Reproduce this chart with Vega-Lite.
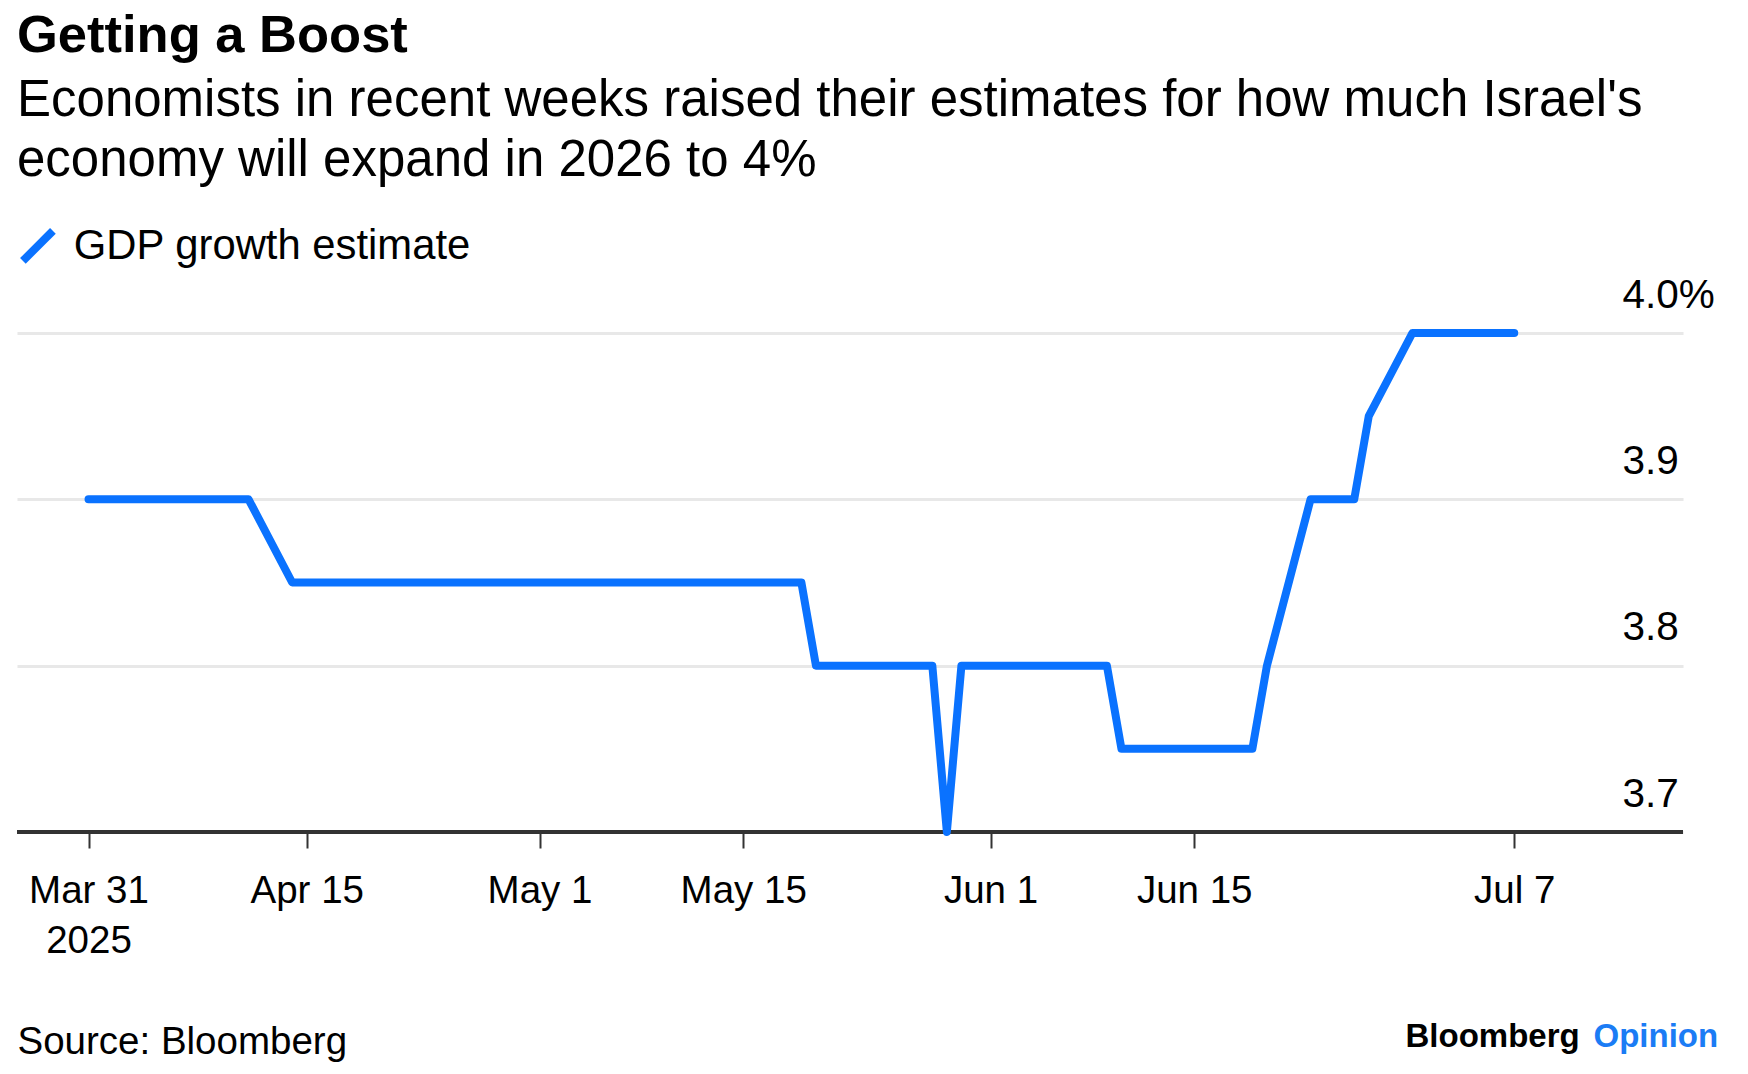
{
  "$schema": "https://vega.github.io/schema/vega-lite/v6.json",
  "width": 1666,
  "height": 499,
  "autosize": {"type": "none"},
  "padding": {"left": 17, "top": 333, "right": 65, "bottom": 242},
  "background": "white",
  "config": {
    "font": "Liberation Sans",
    "view": {"stroke": null}
  },
  "title": {
    "text": "Getting a Boost",
    "subtitle": [
      "Economists in recent weeks raised their estimates for how much Israel's",
      "economy will expand in 2026 to 4%"
    ],
    "anchor": "start",
    "frame": "group",
    "font": "Liberation Sans",
    "fontSize": 52.5,
    "fontWeight": "bold",
    "color": "#000000",
    "subtitleFont": "Liberation Sans",
    "subtitleFontSize": 51,
    "subtitleColor": "#000000",
    "subtitleLineHeight": 60,
    "subtitlePadding": 12.5,
    "offset": 38.5
  },
  "data": {
    "values": [
      {"date": "2025-03-31", "gdp": 3.9},
      {"date": "2025-04-01", "gdp": 3.9},
      {"date": "2025-04-02", "gdp": 3.9},
      {"date": "2025-04-03", "gdp": 3.9},
      {"date": "2025-04-04", "gdp": 3.9},
      {"date": "2025-04-07", "gdp": 3.9},
      {"date": "2025-04-08", "gdp": 3.9},
      {"date": "2025-04-09", "gdp": 3.9},
      {"date": "2025-04-10", "gdp": 3.9},
      {"date": "2025-04-11", "gdp": 3.9},
      {"date": "2025-04-14", "gdp": 3.85},
      {"date": "2025-04-15", "gdp": 3.85},
      {"date": "2025-04-16", "gdp": 3.85},
      {"date": "2025-04-17", "gdp": 3.85},
      {"date": "2025-04-18", "gdp": 3.85},
      {"date": "2025-04-21", "gdp": 3.85},
      {"date": "2025-04-22", "gdp": 3.85},
      {"date": "2025-04-23", "gdp": 3.85},
      {"date": "2025-04-24", "gdp": 3.85},
      {"date": "2025-04-25", "gdp": 3.85},
      {"date": "2025-04-28", "gdp": 3.85},
      {"date": "2025-04-29", "gdp": 3.85},
      {"date": "2025-04-30", "gdp": 3.85},
      {"date": "2025-05-01", "gdp": 3.85},
      {"date": "2025-05-02", "gdp": 3.85},
      {"date": "2025-05-05", "gdp": 3.85},
      {"date": "2025-05-06", "gdp": 3.85},
      {"date": "2025-05-07", "gdp": 3.85},
      {"date": "2025-05-08", "gdp": 3.85},
      {"date": "2025-05-09", "gdp": 3.85},
      {"date": "2025-05-12", "gdp": 3.85},
      {"date": "2025-05-13", "gdp": 3.85},
      {"date": "2025-05-14", "gdp": 3.85},
      {"date": "2025-05-15", "gdp": 3.85},
      {"date": "2025-05-16", "gdp": 3.85},
      {"date": "2025-05-19", "gdp": 3.85},
      {"date": "2025-05-20", "gdp": 3.8},
      {"date": "2025-05-21", "gdp": 3.8},
      {"date": "2025-05-22", "gdp": 3.8},
      {"date": "2025-05-23", "gdp": 3.8},
      {"date": "2025-05-26", "gdp": 3.8},
      {"date": "2025-05-27", "gdp": 3.8},
      {"date": "2025-05-28", "gdp": 3.8},
      {"date": "2025-05-29", "gdp": 3.7},
      {"date": "2025-05-30", "gdp": 3.8},
      {"date": "2025-06-02", "gdp": 3.8},
      {"date": "2025-06-03", "gdp": 3.8},
      {"date": "2025-06-04", "gdp": 3.8},
      {"date": "2025-06-05", "gdp": 3.8},
      {"date": "2025-06-06", "gdp": 3.8},
      {"date": "2025-06-09", "gdp": 3.8},
      {"date": "2025-06-10", "gdp": 3.75},
      {"date": "2025-06-11", "gdp": 3.75},
      {"date": "2025-06-12", "gdp": 3.75},
      {"date": "2025-06-13", "gdp": 3.75},
      {"date": "2025-06-16", "gdp": 3.75},
      {"date": "2025-06-17", "gdp": 3.75},
      {"date": "2025-06-18", "gdp": 3.75},
      {"date": "2025-06-19", "gdp": 3.75},
      {"date": "2025-06-20", "gdp": 3.8},
      {"date": "2025-06-23", "gdp": 3.9},
      {"date": "2025-06-24", "gdp": 3.9},
      {"date": "2025-06-25", "gdp": 3.9},
      {"date": "2025-06-26", "gdp": 3.9},
      {"date": "2025-06-27", "gdp": 3.95},
      {"date": "2025-06-30", "gdp": 4.0},
      {"date": "2025-07-01", "gdp": 4.0},
      {"date": "2025-07-02", "gdp": 4.0},
      {"date": "2025-07-03", "gdp": 4.0},
      {"date": "2025-07-04", "gdp": 4.0},
      {"date": "2025-07-07", "gdp": 4.0}
    ]
  },
  "resolve": {"axis": {"y": "independent"}},
  "layer": [
    {
      "mark": {"type": "rule", "color": "#333333", "strokeWidth": 3},
      "encoding": {
        "y": {
          "datum": 3.7,
          "type": "quantitative",
          "axis": {
            "orient": "left",
            "labels": false,
            "ticks": false,
            "domain": false,
            "grid": false,
            "title": "Bloomberg",
            "titleAngle": 0,
            "titleAlign": "left",
            "titleBaseline": "alphabetic",
            "titleX": 1388,
            "titleY": 713,
            "titleFont": "Liberation Sans",
            "titleFontSize": 33,
            "titleFontWeight": "bold",
            "titleColor": "#000000"
          }
        }
      }
    },
    {
      "mark": {
        "type": "line",
        "strokeWidth": 8,
        "strokeCap": "round",
        "strokeJoin": "round"
      },
      "encoding": {
        "x": {
          "field": "date",
          "type": "temporal",
          "scale": {
            "type": "utc",
            "domain": [
              {"year": 2025, "month": 3, "date": 26, "hours": 2, "utc": true},
              {"year": 2025, "month": 7, "date": 18, "hours": 14, "minutes": 24, "utc": true}
            ]
          },
          "axis": {
            "values": [
              {"year": 2025, "month": 3, "date": 31, "utc": true},
              {"year": 2025, "month": 4, "date": 15, "utc": true},
              {"year": 2025, "month": 5, "date": 1, "utc": true},
              {"year": 2025, "month": 5, "date": 15, "utc": true},
              {"year": 2025, "month": 6, "date": 1, "utc": true},
              {"year": 2025, "month": 6, "date": 15, "utc": true},
              {"year": 2025, "month": 7, "date": 7, "utc": true}
            ],
            "labelExpr": "utcFormat(datum.value, '%b %-d') == 'Mar 31' ? ['Mar 31', utcFormat(datum.value, '%Y')] : utcFormat(datum.value, '%b %-d')",
            "domain": false,
            "grid": false,
            "ticks": true,
            "tickColor": "#333333",
            "tickSize": 16,
            "tickWidth": 2,
            "labelFont": "Liberation Sans",
            "labelFontSize": 38.5,
            "labelColor": "#000000",
            "labelPadding": 24,
            "labelLineHeight": 50,
            "labelFlush": false,
            "labelOverlap": false,
            "title": "Source: Bloomberg",
            "titleFont": "Liberation Sans",
            "titleFontSize": 38.5,
            "titleFontWeight": "normal",
            "titleColor": "#000000",
            "titleAnchor": "start",
            "titleAlign": "left",
            "titleBaseline": "alphabetic",
            "titleX": 0,
            "titleY": 221
          }
        },
        "y": {
          "field": "gdp",
          "type": "quantitative",
          "scale": {"domain": [3.7, 4.0], "zero": false, "nice": false},
          "axis": {
            "orient": "right",
            "values": [3.7, 3.8, 3.9, 4.0],
            "labelExpr": "datum.value == 4 ? '4.0%' : format(datum.value, '.1f')",
            "domain": false,
            "ticks": false,
            "grid": true,
            "gridColor": "#e8e8e8",
            "gridWidth": 3,
            "labelFont": "Liberation Sans",
            "labelFontSize": 40.5,
            "labelColor": "#000000",
            "labelAlign": "left",
            "labelBaseline": "alphabetic",
            "labelPadding": -61,
            "labelOffset": -26,
            "labelFlush": false,
            "labelOverlap": false,
            "title": "Opinion",
            "titleAngle": 0,
            "titleAlign": "left",
            "titleBaseline": "alphabetic",
            "titleX": -90,
            "titleY": 713,
            "titleFont": "Liberation Sans",
            "titleFontSize": 33,
            "titleFontWeight": "bold",
            "titleColor": "#1b7cf5"
          }
        },
        "color": {
          "datum": "GDP growth estimate",
          "type": "nominal",
          "scale": {"range": ["#0a72ff"]},
          "legend": {
            "orient": "none",
            "legendX": 0,
            "legendY": -108,
            "title": null,
            "padding": 0,
            "symbolType": "M-1,1L1,-1",
            "symbolSize": 900,
            "symbolStrokeWidth": 8,
            "labelFont": "Liberation Sans",
            "labelFontSize": 41.8,
            "labelColor": "#000000",
            "labelOffset": 15,
            "labelLimit": 0
          }
        }
      }
    }
  ]
}
